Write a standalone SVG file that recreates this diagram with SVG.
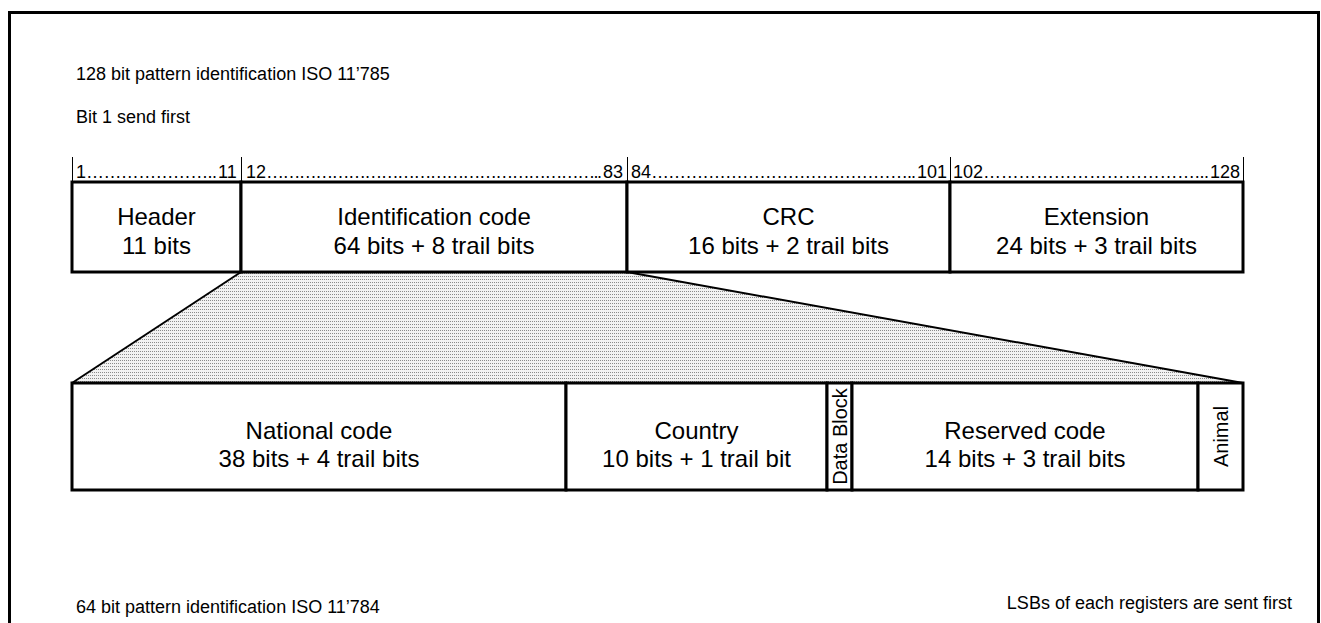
<svg xmlns="http://www.w3.org/2000/svg" width="1321" height="623" viewBox="0 0 1321 623">
<style>
text{font-family:"Liberation Sans",Arial,sans-serif;fill:#000}
.t{font-size:18px}
.b{font-size:24px;text-anchor:middle}
.v{font-size:20px;text-anchor:middle}
.box{fill:#fff;stroke:#000;stroke-width:3}
.tick{stroke:#000;stroke-width:1}
.fan{stroke:#000;stroke-width:2;fill:none}
</style>
<defs>
<pattern id="dots" width="2" height="3" patternUnits="userSpaceOnUse">
<rect width="2" height="3" fill="#f2f2f2"/>
<rect width="1" height="1" fill="#8a8a8a"/>
</pattern>
</defs>
<rect x="9.5" y="12.5" width="1309" height="700" fill="#fff" stroke="#000" stroke-width="3"/>
<text class="t" x="76" y="80">128 bit pattern identification ISO 11’785</text>
<text class="t" x="76" y="123">Bit 1 send first</text>
<g id="connectors">
<polygon points="241,272 627,272 1243,383 72,383" fill="url(#dots)"/>
<line class="fan" x1="241" y1="272" x2="72" y2="383"/>
<line class="fan" x1="627" y1="272" x2="1243" y2="383"/>
</g>
<g id="ticks">
<line class="tick" x1="72.5" y1="157" x2="72.5" y2="182"/>
<line class="tick" x1="241.5" y1="157" x2="241.5" y2="182"/>
<line class="tick" x1="627.5" y1="157" x2="627.5" y2="182"/>
<line class="tick" x1="950.5" y1="157" x2="950.5" y2="182"/>
<line class="tick" x1="1243.5" y1="157" x2="1243.5" y2="182"/>
<text class="t" y="178"><tspan x="76">1</tspan><tspan textLength="131" lengthAdjust="spacing">…………………..</tspan><tspan x="218">11</tspan></text>
<text class="t" y="178"><tspan x="246">12</tspan><tspan textLength="336" lengthAdjust="spacing">……………………………………………………..</tspan><tspan x="603">83</tspan></text>
<text class="t" y="178"><tspan x="631">84</tspan><tspan textLength="265" lengthAdjust="spacing">………………………………………..</tspan><tspan x="917">101</tspan></text>
<text class="t" y="178"><tspan x="953">102</tspan><tspan textLength="226" lengthAdjust="spacing">………………………………...</tspan><tspan x="1210">128</tspan></text>
</g>
<g id="header"><rect class="box" x="72" y="182" width="169" height="90"/><text class="b" x="156.5" y="225">Header</text><text class="b" x="156.5" y="254">11 bits</text></g>
<g id="ident"><rect class="box" x="241" y="182" width="386" height="90"/><text class="b" x="434" y="225">Identification code</text><text class="b" x="434" y="254">64 bits + 8 trail bits</text></g>
<g id="crc"><rect class="box" x="627" y="182" width="323" height="90"/><text class="b" x="788.5" y="225">CRC</text><text class="b" x="788.5" y="254">16 bits + 2 trail bits</text></g>
<g id="ext"><rect class="box" x="950" y="182" width="293" height="90"/><text class="b" x="1096.5" y="225">Extension</text><text class="b" x="1096.5" y="254">24 bits + 3 trail bits</text></g>
<g id="national"><rect class="box" x="72" y="383" width="494" height="107"/><text class="b" x="319" y="439">National code</text><text class="b" x="319" y="467">38 bits + 4 trail bits</text></g>
<g id="country"><rect class="box" x="566" y="383" width="261" height="107"/><text class="b" x="696.5" y="439">Country</text><text class="b" x="696.5" y="467">10 bits + 1 trail bit</text></g>
<g id="datablock"><rect class="box" x="827" y="383" width="25" height="107"/><text class="v" transform="translate(847,436.5) rotate(-90)">Data Block</text></g>
<g id="reserved"><rect class="box" x="852" y="383" width="346" height="107"/><text class="b" x="1025" y="439">Reserved code</text><text class="b" x="1025" y="467">14 bits + 3 trail bits</text></g>
<g id="animal"><rect class="box" x="1198" y="383" width="45" height="107"/><text class="v" transform="translate(1228,436.5) rotate(-90)">Animal</text></g>
<text class="t" x="76" y="613">64 bit pattern identification ISO 11’784</text>
<text class="t" x="1292" y="609" text-anchor="end">LSBs of each registers are sent first</text>
</svg>
